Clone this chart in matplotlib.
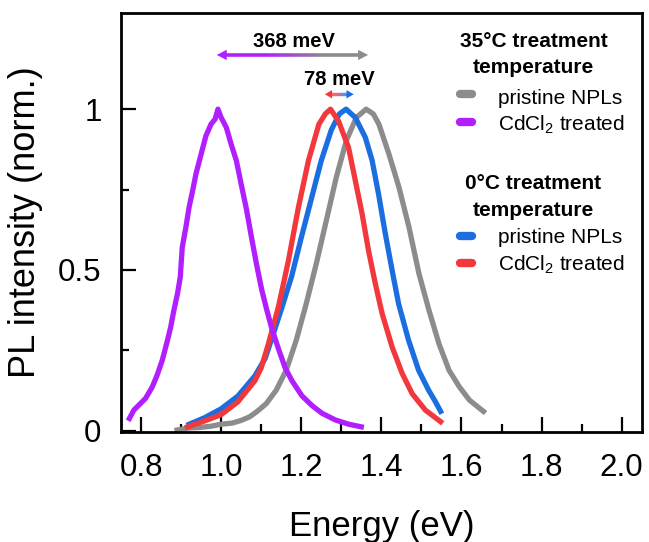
import numpy as np
import matplotlib
matplotlib.use("Agg")
import matplotlib.pyplot as plt
from matplotlib.collections import LineCollection
from matplotlib.colors import to_rgb

plt.rcParams['font.family'] = ['Liberation Sans', 'DejaVu Sans']
plt.rcParams['mathtext.fontset'] = 'custom'
plt.rcParams['mathtext.rm'] = 'Liberation Sans'
plt.rcParams['mathtext.default'] = 'regular'

# PL spectra (energy in eV, normalised intensity)
gray_e = [0.890, 0.916, 0.946, 0.975, 1.000, 1.029, 1.050, 1.071, 1.090, 1.1125, 1.1375,
          1.1625, 1.1875, 1.2125, 1.2375, 1.2625, 1.2875, 1.3125, 1.3375, 1.362, 1.380,
          1.394, 1.419, 1.444, 1.469, 1.494, 1.519, 1.544, 1.569, 1.595, 1.620, 1.640, 1.655]
gray_i = [0.002, 0.008, 0.010, 0.014, 0.020, 0.024, 0.032, 0.043, 0.060, 0.084, 0.126,
          0.188, 0.281, 0.395, 0.519, 0.653, 0.788, 0.902, 0.974, 1.000, 0.985,
          0.953, 0.860, 0.757, 0.633, 0.488, 0.374, 0.270, 0.188, 0.136, 0.095, 0.075, 0.060]

purple_e = [0.771, 0.782, 0.794, 0.811, 0.828, 0.840, 0.853, 0.866, 0.874, 0.882, 0.891,
            0.898, 0.903, 0.912, 0.920, 0.929, 0.937, 0.950, 0.962, 0.975, 0.985, 0.992,
            1.000, 1.013, 1.025, 1.038, 1.050, 1.063, 1.076, 1.088, 1.101, 1.113, 1.126,
            1.143, 1.160, 1.177, 1.202, 1.227, 1.252, 1.286, 1.319, 1.350]
purple_i = [0.038, 0.064, 0.079, 0.100, 0.136, 0.172, 0.219, 0.281, 0.322, 0.374, 0.426,
            0.478, 0.571, 0.633, 0.695, 0.747, 0.798, 0.860, 0.917, 0.954, 0.969, 1.000,
            0.974, 0.943, 0.891, 0.840, 0.767, 0.690, 0.600, 0.520, 0.440, 0.380, 0.320,
            0.255, 0.195, 0.155, 0.108, 0.078, 0.054, 0.033, 0.020, 0.012]

blue_e = [0.920, 0.958, 1.000, 1.042, 1.084, 1.110, 1.126, 1.151, 1.176, 1.200, 1.225,
          1.250, 1.275, 1.295, 1.312, 1.335, 1.360, 1.377, 1.393, 1.410, 1.427, 1.443,
          1.468, 1.493, 1.518, 1.535, 1.548]
blue_i = [0.020, 0.040, 0.068, 0.108, 0.170, 0.225, 0.285, 0.380, 0.480, 0.600, 0.720,
          0.840, 0.935, 0.985, 1.000, 0.974, 0.912, 0.840, 0.736, 0.612, 0.498, 0.395,
          0.281, 0.188, 0.126, 0.090, 0.060]

red_e = [0.916, 0.958, 1.000, 1.042, 1.084, 1.100, 1.118, 1.143, 1.168, 1.193, 1.218,
         1.244, 1.260, 1.273, 1.293, 1.318, 1.335, 1.352, 1.368, 1.385, 1.402, 1.427,
         1.452, 1.477, 1.510, 1.530, 1.548]
red_i = [0.012, 0.030, 0.050, 0.090, 0.155, 0.195, 0.270, 0.385, 0.529, 0.695, 0.840,
         0.953, 0.985, 1.000, 0.963, 0.881, 0.778, 0.674, 0.560, 0.457, 0.364, 0.260,
         0.178, 0.115, 0.064, 0.045, 0.028]

GRAY = '#8c8c8c'
PURPLE = '#b21fff'
BLUE = '#1a6ee0'
RED = '#f2383c'


def gradient_arrow(ax, x0, x1, y, c0, c1, hl, hw, lw):
    # shaft with colour fading from c0 to c1, filled heads at both ends
    xs = np.linspace(x0 + hl * 0.8, x1 - hl * 0.8, 60)
    segs = [[(xs[k], y), (xs[k + 1], y)] for k in range(len(xs) - 1)]
    t = np.clip((np.linspace(0, 1, len(segs)) - 0.3) / 0.45, 0, 1)
    a, b = np.array(to_rgb(c0)), np.array(to_rgb(c1))
    cols = [a * (1 - v) + b * v for v in t]
    ax.add_collection(LineCollection(segs, colors=cols, linewidths=lw, capstyle='butt'))
    ax.fill([x0, x0 + hl, x0 + hl], [y, y + hw, y - hw], color=c0, lw=0)
    ax.fill([x1, x1 - hl, x1 - hl], [y, y + hw, y - hw], color=c1, lw=0)


fig = plt.figure(figsize=(6.49, 5.42), dpi=100)
ax = fig.add_axes([121 / 649, (542 - 432.3) / 542, 520.7 / 649, 419.6 / 542])

lw = 3.8
ax.plot(gray_e, gray_i, color=GRAY, lw=lw, solid_joinstyle='round')
ax.plot(blue_e, blue_i, color=BLUE, lw=lw, solid_joinstyle='round')
ax.plot(red_e, red_i, color=RED, lw=lw, solid_joinstyle='round')
ax.plot(purple_e, purple_i, color=PURPLE, lw=lw, solid_joinstyle='round')

ax.set_xlim(0.75, 2.05)
ax.set_ylim(-0.005, 1.3)
ax.set_xticks(np.arange(0.8, 2.01, 0.2))
ax.set_xticks(np.arange(0.9, 2.0, 0.2), minor=True)
ax.set_xticklabels(['0.8', '1.0', '1.2', '1.4', '1.6', '1.8', '2.0'])
ax.set_yticks([0, 0.5, 1])
ax.set_yticklabels(['0', '0.5', '1'])
ax.set_yticks([0.25, 0.75], minor=True)
ax.tick_params(which='both', direction='in', width=1.6, top=False, right=False)
ax.tick_params(which='major', length=11)
ax.tick_params(which='minor', length=6)
ax.tick_params(axis='x', which='major', labelsize=22.5, pad=15)
ax.tick_params(axis='y', which='major', labelsize=22.5, pad=14)
for s in ax.spines.values():
    s.set_linewidth(2)

ax.set_xlabel('Energy (eV)', fontsize=25, labelpad=19)
ax.set_ylabel('PL intensity (norm.)', fontsize=26, labelpad=11)

# energy shift arrows
gradient_arrow(ax, 0.989, 1.367, 1.1686, PURPLE, GRAY, 0.025, 0.016, 2.6)
ax.text(1.1816, 1.1944, '368 meV', ha='center', va='baseline', fontsize=14.5, fontweight='bold')
gradient_arrow(ax, 1.259, 1.331, 1.0463, RED, BLUE, 0.018, 0.013, 2.4)
ax.text(1.294, 1.075, '78 meV', ha='center', va='baseline', fontsize=14.5, fontweight='bold')

# legend drawn by hand
groups = [
    ('35°C treatment', 'temperature', 0.918, 0.856,
     [(GRAY, 'pristine NPLs', 0.806, 0.783), (PURPLE, 'CdCl$_2$ treated', 0.740, 0.719)]),
    ('0°C treatment', 'temperature', 0.579, 0.515,
     [(BLUE, 'pristine NPLs', 0.468, 0.451), (RED, 'CdCl$_2$ treated', 0.403, 0.385)]),
]
for head1, head2, y1, y2, rows in groups:
    ax.text(0.792, y1, head1, transform=ax.transAxes, ha='center', va='baseline',
            fontsize=15, fontweight='bold')
    ax.text(0.792, y2, head2, transform=ax.transAxes, ha='center', va='baseline',
            fontsize=15, fontweight='bold')
    for col, lab, yh, yt in rows:
        ax.plot([0.651, 0.674], [yh, yh], transform=ax.transAxes, color=col, lw=6,
                solid_capstyle='round')
        ax.text(0.724, yt, lab, transform=ax.transAxes, ha='left', va='baseline', fontsize=15)

fig.savefig('out.png', dpi=100)
